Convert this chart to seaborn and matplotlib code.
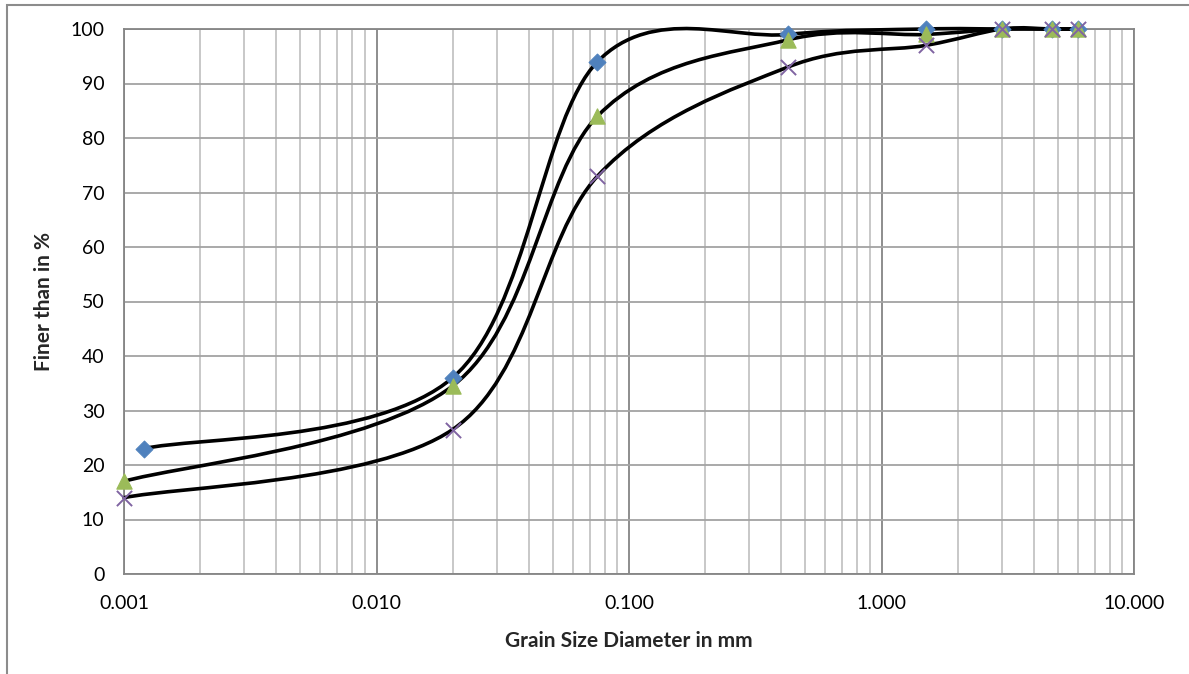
import numpy as np
import pandas as pd
import seaborn as sns
import matplotlib.pyplot as plt
import matplotlib.ticker as mticker
from matplotlib.path import Path
from matplotlib.patches import PathPatch, Rectangle

# grain size (mm) and percent finer for three samples
size_a = [0.0012, 0.020, 0.075, 0.425, 1.5, 3.0, 4.75, 6.0]
finer_a = [23, 36, 94, 99, 100, 100, 100, 100]
size_b = [0.001, 0.020, 0.075, 0.425, 1.5, 3.0, 4.75, 6.0]
finer_b = [17, 34.5, 84, 98, 99, 100, 100, 100]
size_c = [0.001, 0.020, 0.075, 0.425, 1.5, 3.0, 4.75, 6.0]
finer_c = [14, 26.5, 73, 93, 97, 100, 100, 100]

x_ticks = [0.001, 0.01, 0.1, 1, 10]
y_ticks = list(range(0, 101, 10))

sns.set_style("white")
plt.rcParams['font.family'] = ['Lato', 'DejaVu Sans']

fig = plt.figure(figsize=(11.89, 6.74), dpi=100)
ax = fig.add_axes([124/1189, 1-574/674, 1010/1189, 545/674])

# outer chart frame
fig.patches.append(Rectangle((7/1189, -0.05), 1.2, 1-5/674+0.05, transform=fig.transFigure,
                             fill=False, edgecolor='#8c8c8c', linewidth=1.5))


def smooth_path(xs, ys):
    # excel style smoothed line: bezier segments built in (log x, y) space
    lx = np.log10(xs)
    y = np.asarray(ys, dtype=float)
    n = len(lx)
    verts = [(xs[0], y[0])]
    codes = [Path.MOVETO]
    for i in range(n - 1):
        i0 = max(i - 1, 0)
        i3 = min(i + 2, n - 1)
        c1x = lx[i] + (lx[i+1] - lx[i0]) / 6
        c1y = y[i] + (y[i+1] - y[i0]) / 6
        c2x = lx[i+1] - (lx[i3] - lx[i]) / 6
        c2y = y[i+1] - (y[i3] - y[i]) / 6
        verts += [(10**c1x, c1y), (10**c2x, c2y), (xs[i+1], y[i+1])]
        codes += [Path.CURVE4] * 3
    return Path(verts, codes)


for xs, ys in [(size_a, finer_a), (size_b, finer_b), (size_c, finer_c)]:
    ax.add_patch(PathPatch(smooth_path(xs, ys), facecolor='none', edgecolor='black',
                           linewidth=2.6, zorder=3, capstyle='round', clip_on=False))

df = pd.concat([
    pd.DataFrame({'size': size_a, 'finer': finer_a, 'sample': 'A'}),
    pd.DataFrame({'size': size_b, 'finer': finer_b, 'sample': 'B'}),
    pd.DataFrame({'size': size_c, 'finer': finer_c, 'sample': 'C'}),
])
sns.scatterplot(data=df[df['sample'] == 'A'], x='size', y='finer', marker='D', s=75,
                color='#4F81BD', edgecolor='#4F81BD', ax=ax, zorder=4, legend=False, clip_on=False)
sns.scatterplot(data=df[df['sample'] == 'B'], x='size', y='finer', marker='^', s=120,
                color='#9BBB59', edgecolor='#9BBB59', ax=ax, zorder=4, legend=False, clip_on=False)
sns.scatterplot(data=df[df['sample'] == 'C'], x='size', y='finer', marker='x', s=120,
                color='#8064A2', linewidth=1.4, ax=ax, zorder=5, legend=False, clip_on=False)

ax.set_xscale('log')
ax.set_xlim(0.001, 10)
ax.set_ylim(0, 100)
ax.set_xticks(x_ticks)
ax.set_yticks(y_ticks)
ax.xaxis.set_major_formatter(mticker.FuncFormatter(lambda v, p: f'{v:.3f}'))
ax.xaxis.set_minor_locator(mticker.LogLocator(base=10, subs=np.arange(2, 10)))
ax.xaxis.set_minor_formatter(mticker.NullFormatter())

ax.grid(True, which='major', axis='x', color='#858585', linewidth=1.3)
ax.grid(True, which='minor', axis='x', color='#c4c4c4', linewidth=1.3)
ax.grid(True, which='major', axis='y', color='#a3a3a3', linewidth=1.3)
ax.set_axisbelow(True)
for s in ax.spines.values():
    s.set_color('#858585')
    s.set_linewidth(1.3)

ax.tick_params(axis='both', which='both', length=0, labelsize=14, colors='black')
ax.tick_params(axis='y', pad=14)
ax.tick_params(axis='x', pad=15)
ax.set_xlabel('Grain Size Diameter in mm', fontsize=15, fontweight='bold', labelpad=14)
ax.set_ylabel('Finer than in %', fontsize=15, fontweight='bold', labelpad=12)

plt.savefig('out.png', dpi=100)
